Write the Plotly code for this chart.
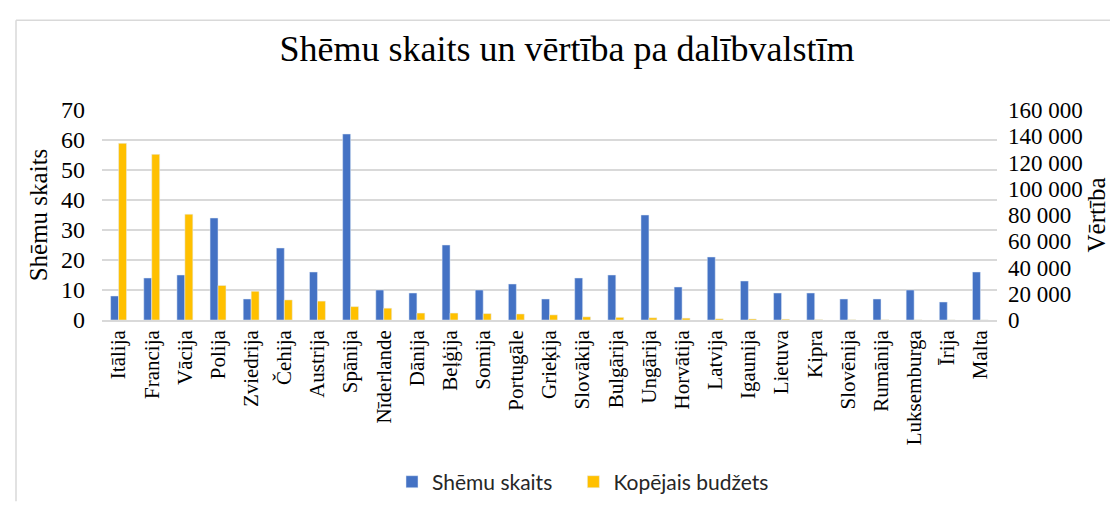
import plotly.graph_objects as go

countries = ["Itālija", "Francija", "Vācija", "Polija", "Zviedrija", "Čehija", "Austrija",
             "Spānija", "Nīderlande", "Dānija", "Beļģija", "Somija", "Portugāle", "Grieķija",
             "Slovākija", "Bulgārija", "Ungārija", "Horvātija", "Latvija", "Igaunija",
             "Lietuva", "Kipra", "Slovēnija", "Rumānija", "Luksemburga", "Īrija", "Malta"]
schemes = [8, 14, 15, 34, 7, 24, 16, 62, 10, 9, 25, 10, 12, 7, 14, 15, 35, 11, 21, 13,
           9, 9, 7, 7, 10, 6, 16]
budget = [134600, 126200, 80600, 26300, 21900, 15300, 14400, 10200, 9000, 5300, 5300,
          4900, 4600, 3900, 2400, 2000, 1700, 1400, 900, 800, 600, 250, 200, 150, 100,
          80, 50]

left_ticks = [0, 10, 20, 30, 40, 50, 60, 70]
right_ticks = [0, 20000, 40000, 60000, 80000, 100000, 120000, 140000, 160000]
right_labels = ["0", "20 000", "40 000", "60 000", "80 000", "100 000", "120 000",
                "140 000", "160 000"]

BLUE = "#4472C4"
GOLD = "#FFC000"
SERIF = "Liberation Serif, Times New Roman, serif"

W, H = 1118, 506
L, R, T, B = 94, 129, 102, 185

fig = go.Figure()
fig.add_trace(go.Bar(x=countries, y=schemes, name="Shēmu skaits\u00a0\u00a0\u00a0",
                     marker_color=BLUE, width=0.24, offset=-0.24, yaxis="y"))
fig.add_trace(go.Bar(x=countries, y=budget, name="Kopējais budžets", marker_color=GOLD,
                     width=0.24, offset=0.0, yaxis="y2"))

pw = W - L - R
ph = H - T - B
def px_x(p):
    return (p - L) / pw
def px_y(p):
    return (H - B - p) / ph

fig.update_layout(
    width=W, height=H,
    margin=dict(l=L, r=R, t=T, b=B),
    paper_bgcolor="white", plot_bgcolor="white",
    title=dict(text="Shēmu skaits un vērtība pa dalībvalstīm", x=0.5, xanchor="center",
               y=1 - 40 / H, yanchor="middle", font=dict(family=SERIF, size=36, color="black")),
    barmode="overlay",
    showlegend=True,
    legend=dict(orientation="h", x=px_x(384), xanchor="left", y=px_y(490), yanchor="middle",
                font=dict(family="Lato, Open Sans, sans-serif", size=21, color="#262626"),
                itemwidth=30, traceorder="normal"),
    xaxis=dict(type="category", tickangle=-90, showgrid=False, showline=True,
               linecolor="#D9D9D9", linewidth=1.5, ticks="",
               tickfont=dict(family=SERIF, size=21, color="black"), range=[-0.5, 26.5]),
    yaxis=dict(range=[0, 70], tickvals=left_ticks, showgrid=True, gridcolor="#D9D9D9",
               gridwidth=1.5, zeroline=False, showline=False, ticks="",
               ticklabelstandoff=16,
               tickfont=dict(family=SERIF, size=24, color="black"),
               title=dict(text="Shēmu skaits", font=dict(family=SERIF, size=25, color="black"),
                          standoff=6)),
    yaxis2=dict(range=[0, 160000], tickvals=right_ticks, ticktext=right_labels,
                overlaying="y", side="right", showgrid=False, zeroline=False, showline=False,
                ticks="", ticklabelstandoff=10,
                tickfont=dict(family=SERIF, size=23, color="black"),
                title=dict(text="Vērtība", font=dict(family=SERIF, size=25, color="black"),
                           standoff=2)),
    shapes=[
        dict(type="line", xref="paper", yref="paper", x0=px_x(8), x1=px_x(1120),
             y0=px_y(8.5), y1=px_y(8.5), line=dict(color="#D9D9D9", width=1.5)),
        dict(type="line", xref="paper", yref="paper", x0=px_x(8), x1=px_x(8),
             y0=px_y(8.5), y1=px_y(510), line=dict(color="#D9D9D9", width=1.5)),
    ],
)

fig.write_html("out.html")
